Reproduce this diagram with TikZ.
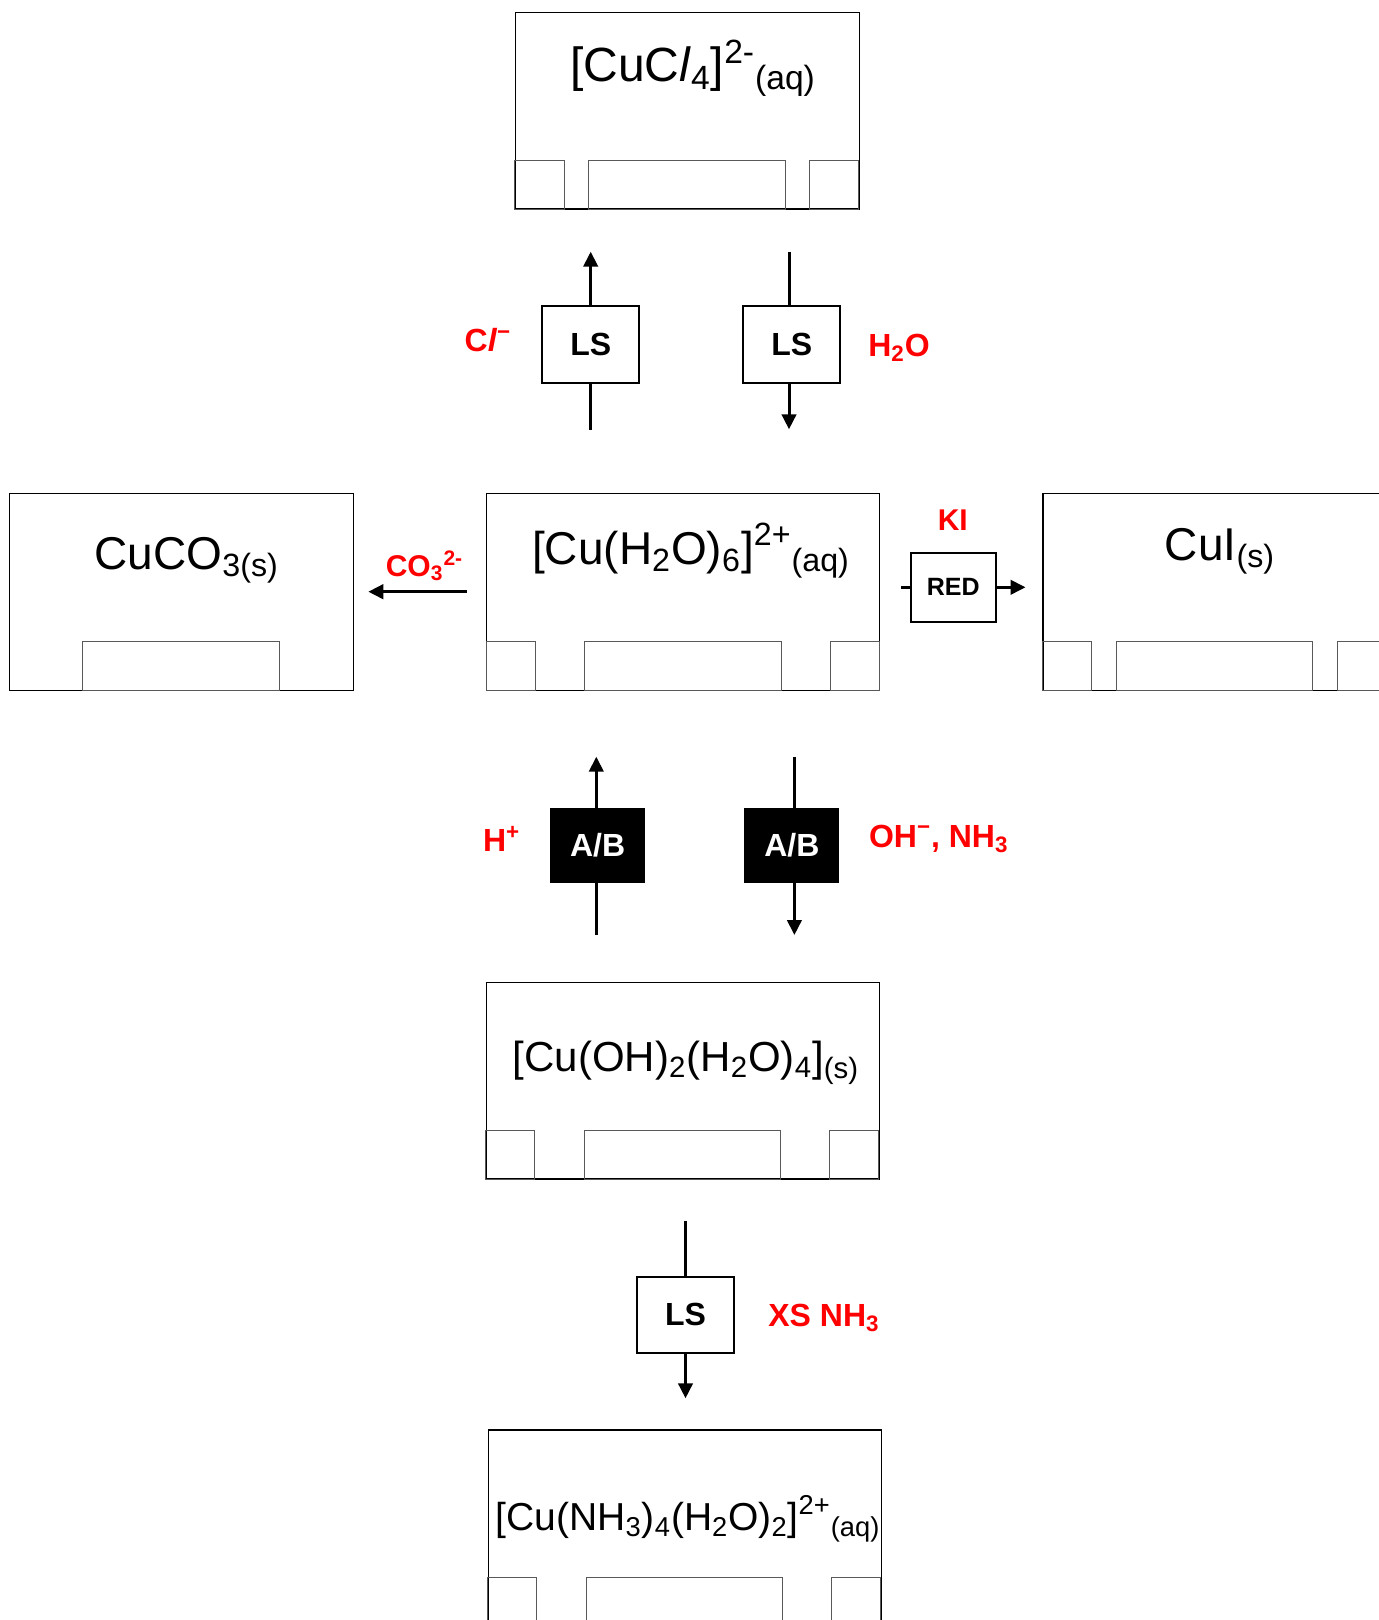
\documentclass[tikz,border=0pt]{standalone}
\usepackage{fontspec}
\setmainfont{Liberation Sans}
\usetikzlibrary{arrows.meta,calc}
\definecolor{reagent}{HTML}{FF0000}
\definecolor{subline}{HTML}{595959}
\tikzset{
  species/.style={draw=black, line width=0.6pt, minimum height=98.15pt, inner sep=0pt},
  widebox/.style={species, minimum width=196.5pt},
  narrowbox/.style={species, minimum width=172pt},
  subbox/.style={draw=subline, line width=0.5pt},
  formula/.style={anchor=base, inner sep=0pt, font=\fontsize{#1pt}{#1pt}\selectfont},
  lsbox/.style={draw, line width=1pt, minimum width=48.6pt, minimum height=38.2pt,
    inner sep=0pt, font=\bfseries\fontsize{16pt}{19pt}\selectfont},
  abbox/.style={fill=black, text=white, minimum width=47.5pt, minimum height=37.2pt,
    inner sep=0pt, font=\bfseries\fontsize{16pt}{19pt}\selectfont},
  redbox/.style={draw, line width=1pt, minimum width=42.5pt, minimum height=34.8pt,
    inner sep=0pt, font=\bfseries\fontsize{12.5pt}{15pt}\selectfont},
  reagentlbl/.style={anchor=base, inner sep=0pt, text=reagent,
    font=\bfseries\fontsize{#1pt}{#1pt}\selectfont},
  arrow/.style={-{Triangle[length=7.5pt,width=7.2pt]}, line width=1.5pt},
  plain/.style={line width=1.5pt},
}
\begin{document}
\begin{tikzpicture}[x=0.5pt, y=0.5pt]
  \useasboundingbox (0,0) rectangle (1379,-1620);
  \clip (0,0) rectangle (1379,-1620);

  % species boxes
  \node[narrowbox] (tetrabox) at (687.3,-110.85) {};
  \node[narrowbox] (carbbox) at (181.7,-592) {};
  \node[widebox] (hexbox) at (683.15,-592) {};
  \node[narrowbox] (iodbox) at (1214.9,-592) {};
  \node[widebox] (hydbox) at (683,-1080.85) {};
  \node[widebox] (amminebox) at (684.8,-1528.15) {};

  \foreach \b in {hexbox,hydbox,amminebox} {
    \draw[subbox] (\b.south west) rectangle ++(49,49);
    \draw[subbox] ($(\b.south west)+(98.5,0)$) rectangle ++(196.5,49);
    \draw[subbox] ($(\b.south west)+(344,0)$) rectangle ++(49,49);
  }
  \foreach \b in {tetrabox,iodbox} {
    \draw[subbox] (\b.south west) rectangle ++(49.4,49);
    \draw[subbox] ($(\b.south west)+(74,0)$) rectangle ++(196.4,49);
    \draw[subbox] ($(\b.south west)+(295,0)$) rectangle ++(49,49);
  }
  \draw[subbox] ($(carbbox.south west)+(73.7,0)$) rectangle ++(196.5,49);

  % formulas
  \node[formula=24] (tetra) at (693,-81.7)
    {[CuC\textit{l}\textsubscript{4}]\textsuperscript{2-}\textsubscript{(aq)}};
  \node[formula=23] (carb) at (186.7,-569) {CuCO\textsubscript{3(s)}};
  \node[formula=23] (hex) at (691,-564)
    {[Cu(H\textsubscript{2}O)\textsubscript{6}]\textsuperscript{2+}\textsubscript{(aq)}};
  \node[formula=23] (iod) at (1220,-560) {CuI\textsubscript{(s)}};
  \node[formula=21] (hyd) at (686,-1071.7)
    {[Cu(OH)\textsubscript{2}(H\textsubscript{2}O)\textsubscript{4}]\textsubscript{(s)}};
  \node[formula=19.5] (ammine) at (688,-1530)
    {[Cu(NH\textsubscript{3})\textsubscript{4}(H\textsubscript{2}O)\textsubscript{2}]\textsuperscript{2+}\textsubscript{(aq)}};

  % process boxes
  \node[lsbox] (ls1) at (590.7,-344.5) {LS};
  \node[lsbox] (ls2) at (791.8,-344.5) {LS};
  \node[redbox] (red) at (953.3,-587.3) {RED};
  \node[abbox] (ab1) at (597.6,-845.5) {A/B};
  \node[abbox] (ab2) at (791.9,-845.5) {A/B};
  \node[lsbox] (ls3) at (685.5,-1314.8) {LS};

  % reagents
  \node[reagentlbl=16] (chl) at (488,-351.7) {C\textit{l}\textsuperscript{−}};
  \node[reagentlbl=16] (water) at (899,-356.7) {H\textsubscript{2}O};
  \node[reagentlbl=15] (carbonate) at (424.5,-576) {CO\textsubscript{3}\textsuperscript{2-}};
  \node[reagentlbl=15] (ki) at (952.8,-530.7) {KI};
  \node[reagentlbl=16] (acid) at (501.7,-851.7) {H\textsuperscript{+}};
  \node[reagentlbl=16] (base) at (938.8,-847.3) {OH\textsuperscript{−}, NH\textsubscript{3}};
  \node[reagentlbl=16] (xsammonia) at (824,-1326.7) {XS NH\textsubscript{3}};

  % connector ends
  \coordinate (ls1in) at (590.7,-430);
  \coordinate (ls1out) at (590.7,-251.7);
  \coordinate (ls2in) at (789,-251.7);
  \coordinate (ls2out) at (789,-429.3);
  \coordinate (co3in) at (466.7,-591.7);
  \coordinate (co3out) at (368.3,-591.7);
  \coordinate (redin) at (901.3,-587.3);
  \coordinate (redout) at (1025.5,-587.3);
  \coordinate (ab1in) at (596.3,-935);
  \coordinate (ab1out) at (596.3,-756.7);
  \coordinate (ab2in) at (794.4,-756.7);
  \coordinate (ab2out) at (794.4,-935);
  \coordinate (ls3in) at (685.5,-1220.7);
  \coordinate (ls3out) at (685.5,-1398.3);

  \draw[arrow] (ls1in) -- (ls1) -- (ls1out);
  \draw[plain] (ls2in) -- (ls2in |- ls2.north);
  \draw[arrow] (ls2in |- ls2.south) -- (ls2out);
  \draw[arrow] (co3in) -- (co3out);
  \draw[arrow] (redin) -- (red) -- (redout);
  \draw[plain] (ab1in) -- (ab1in |- ab1.south);
  \draw[arrow] (ab1in |- ab1.north) -- (ab1out);
  \draw[plain] (ab2in) -- (ab2in |- ab2.north);
  \draw[arrow] (ab2in |- ab2.south) -- (ab2out);
  \draw[arrow] (ls3in) -- (ls3) -- (ls3out);
\end{tikzpicture}
\end{document}
